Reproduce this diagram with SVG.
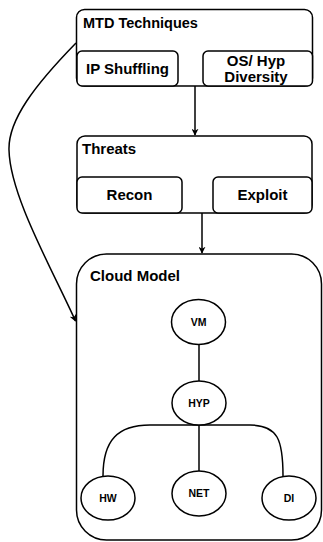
<svg xmlns="http://www.w3.org/2000/svg" width="323" height="542" viewBox="0 0 323 542">
<defs>
<marker id="ah" viewBox="0 0 10 10" refX="9" refY="5" markerWidth="7" markerHeight="7" markerUnits="userSpaceOnUse" orient="auto">
<path d="M0,0 L10,5 L0,10 L3,5 Z" fill="#000"/>
</marker>
<style>
.box{fill:#fff;stroke:#000;stroke-width:1.5}
.ell{fill:#fff;stroke:#000;stroke-width:1.5}
.edge{fill:none;stroke:#000;stroke-width:1.5}
.t{font-family:"Liberation Sans",Arial,sans-serif;font-weight:bold;font-size:15px;fill:#000}
.c{text-anchor:middle}
.s{font-family:"Liberation Sans",Arial,sans-serif;font-weight:bold;font-size:10.5px;fill:#000;text-anchor:middle}
</style>
</defs>
<rect width="323" height="542" fill="#fff"/>
<g id="mtd">
<rect class="box" x="76.5" y="9.5" width="236" height="76.5" rx="8"/>
<text class="t" x="83" y="28.3" style="font-size:14.5px">MTD Techniques</text>
</g>
<g id="ip-shuffling">
<rect class="box" x="77" y="51" width="101" height="35" rx="5"/>
<text class="t c" x="127.5" y="74">IP Shuffling</text>
</g>
<g id="os-hyp-diversity">
<rect class="box" x="203" y="51" width="109.5" height="35" rx="5"/>
<text class="t c" x="256" y="66">OS/ Hyp</text>
<text class="t c" x="256" y="82.3">Diversity</text>
</g>
<g id="threats">
<rect class="box" x="77" y="136" width="235" height="77" rx="8"/>
<text class="t" x="82" y="154.3">Threats</text>
</g>
<g id="recon">
<rect class="box" x="77" y="177" width="105" height="36" rx="5"/>
<text class="t c" x="129.5" y="200">Recon</text>
</g>
<g id="exploit">
<rect class="box" x="213" y="177" width="99" height="36" rx="5"/>
<text class="t c" x="262.5" y="200">Exploit</text>
</g>
<g id="cloud-model">
<rect class="box" x="76.5" y="254" width="245" height="286" rx="30"/>
<text class="t" x="90" y="281">Cloud Model</text>
</g>
<g id="connectors">
<path class="edge" d="M195,86 L195,135" marker-end="url(#ah)"/>
<path class="edge" d="M202,213 L202,253" marker-end="url(#ah)"/>
<path class="edge" d="M76,43 C35,85 8,120 9,150 C10,195 50,265 75.5,321" marker-end="url(#ah)"/>
<path class="edge" d="M199,344.5 L199,381"/>
<path class="edge" d="M199,425 L150,425 C118,425 103,440 103,476"/>
<path class="edge" d="M199,425 L250,425 C278,425 283,440 283,476"/>
<path class="edge" d="M199,425 L199,471"/>
</g>
<g id="vm">
<ellipse class="ell" cx="198.5" cy="322" rx="27" ry="22.5"/>
<text class="s" x="198.5" y="325.5">VM</text>
</g>
<g id="hyp">
<ellipse class="ell" cx="199" cy="403" rx="27" ry="22"/>
<text class="s" x="199" y="407">HYP</text>
</g>
<g id="hw">
<ellipse class="ell" cx="108" cy="498" rx="27" ry="22"/>
<text class="s" x="108" y="502">HW</text>
</g>
<g id="net">
<ellipse class="ell" cx="199" cy="493.5" rx="27" ry="22.5"/>
<text class="s" x="199" y="497.3">NET</text>
</g>
<g id="di">
<ellipse class="ell" cx="289" cy="498" rx="27" ry="22"/>
<text class="s" x="289" y="502">DI</text>
</g>
</svg>
